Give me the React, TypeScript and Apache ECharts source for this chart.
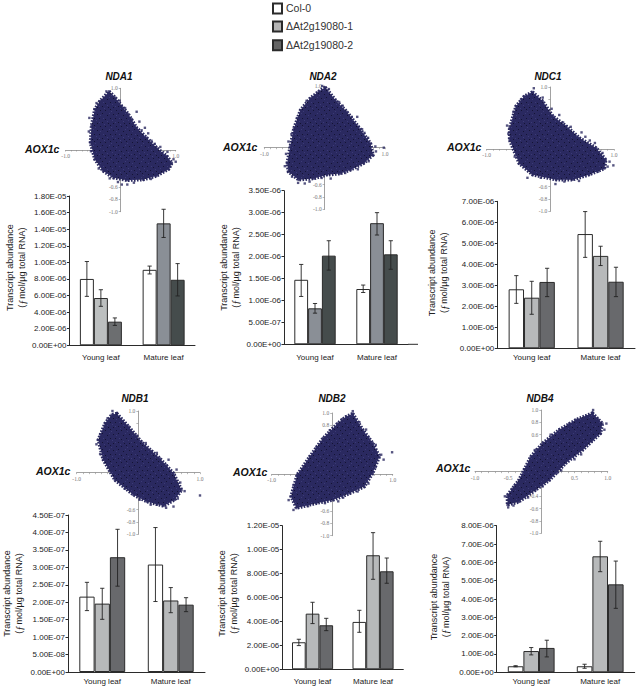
import React, { useEffect, useRef } from "react";
import * as echarts from "echarts";

const categories = ["Young leaf", "Mature leaf"];
const lines = ["Col-0", "ΔAt2g19080-1", "ΔAt2g19080-2"];
const genes = ["NDA1", "NDA2", "NDC1", "NDB1", "NDB2", "NDB4"];

// [young, mature] per line
const nda1Values = [[8.0e-6, 9.1e-6], [5.7e-6, 1.47e-5], [2.85e-6, 7.9e-6]];
const nda1Low = [[5.9e-6, 8.6e-6], [4.7e-6, 1.3e-5], [2.4e-6, 5.95e-6]];
const nda1High = [[1.01e-5, 9.55e-6], [6.7e-6, 1.64e-5], [3.3e-6, 9.85e-6]];

const nda2Values = [[1.47e-6, 1.26e-6], [8.2e-7, 2.76e-6], [2.02e-6, 2.05e-6]];
const nda2Low = [[1.09e-6, 1.18e-6], [7.1e-7, 2.49e-6], [1.69e-6, 1.71e-6]];
const nda2High = [[1.82e-6, 1.35e-6], [9.3e-7, 3.0e-6], [2.36e-6, 2.36e-6]];

const ndc1Values = [[2.81e-6, 5.44e-6], [2.41e-6, 4.4e-6], [3.16e-6, 3.17e-6]];
const ndc1Low = [[2.14e-6, 4.33e-6], [1.62e-6, 3.94e-6], [2.46e-6, 2.46e-6]];
const ndc1High = [[3.46e-6, 6.51e-6], [3.19e-6, 4.86e-6], [3.81e-6, 3.86e-6]];

const ndb1Values = [[2.16e-7, 3.08e-7], [1.96e-7, 2.05e-7], [3.29e-7, 1.93e-7]];
const ndb1Low = [[1.76e-7, 2.02e-7], [1.51e-7, 1.7e-7], [2.46e-7, 1.73e-7]];
const ndb1High = [[2.57e-7, 4.14e-7], [2.4e-7, 2.42e-7], [4.09e-7, 2.13e-7]];

const ndb2Values = [[2.26e-6, 3.96e-6], [4.65e-6, 9.53e-6], [3.68e-6, 8.19e-6]];
const ndb2Low = [[1.98e-6, 3.09e-6], [3.82e-6, 7.52e-6], [3.23e-6, 7.19e-6]];
const ndb2High = [[2.51e-6, 4.93e-6], [5.6e-6, 1.142e-5], [4.26e-6, 9.3e-6]];

const ndb4Values = [[3.3e-7, 3.3e-7], [1.16e-6, 6.33e-6], [1.33e-6, 4.8e-6]];
const ndb4Low = [[3.0e-7, 2.2e-7], [9.5e-7, 5.49e-6], [8.4e-7, 3.49e-6]];
const ndb4High = [[3.6e-7, 4.4e-7], [1.35e-6, 7.15e-6], [1.75e-6, 6.07e-6]];

const yMaxes = [1.8e-5, 3.5e-6, 7e-6, 4.5e-7, 1.2e-5, 8e-6];
const yIntervals = [2e-6, 5e-7, 1e-6, 5e-8, 2e-6, 1e-6];

// Scatter silhouettes (x, y correlation)
const nda1Cloud = [[-.21,.95],[-.1,.85],[.02,.71],[.14,.58],[.29,.36],[.47,.2],[.65,.04],[.84,-.1],[.93,-.21],[.87,-.31],[.65,-.42],[.41,-.48],[.11,-.49],[-.13,-.45],[-.32,-.34],[-.47,-.15],[-.55,.12],[-.53,.39],[-.47,.66],[-.38,.79]];
const nda2Cloud = [[.01,.98],[.18,.77],[.37,.58],[.56,.34],[.76,.07],[.8,-.12],[.65,-.25],[.43,-.36],[.26,-.42],[.04,-.44],[-.18,-.5],[-.43,-.52],[-.6,-.39],[-.62,-.25],[-.57,.02],[-.51,.31],[-.4,.61],[-.24,.8],[-.1,.91]];
const ndc1Cloud = [[-.28,.92],[-.12,.77],[.04,.53],[.25,.37],[.46,.18],[.72,.02],[.87,-.17],[.85,-.31],[.61,-.41],[.35,-.49],[.09,-.49],[-.28,-.41],[-.49,-.23],[-.64,.15],[-.64,.34],[-.54,.69],[-.41,.85]];
const ndb1Cloud = [[-.35,.96],[-.16,.75],[.05,.5],[.35,.23],[.57,-.01],[.7,-.28],[.59,-.44],[.41,-.54],[.14,-.47],[-.08,-.36],[-.38,-.12],[-.57,.21],[-.65,.53],[-.54,.8],[-.43,.94]];
const ndb2Cloud = [[.34,.99],[.51,.72],[.67,.51],[.78,.29],[.67,.02],[.53,-.2],[.29,-.31],[.01,-.42],[-.26,-.47],[-.59,-.55],[-.68,-.36],[-.58,-.01],[-.37,.29],[-.15,.59],[.09,.83],[.23,.94]];
const ndb4Cloud = [[.77,.95],[.92,.78],[.89,.62],[.62,.35],[.37,.14],[.12,-.14],[-.09,-.3],[-.34,-.49],[-.51,-.54],[-.51,-.38],[-.34,-.14],[-.16,.24],[.02,.46],[.27,.68],[.52,.84]];

const nda1Stray = [[.29,.62],[.44,.36],[.5,.27],[.02,-.56],[.12,-.56],[1.0,-.19],[.34,.46],[.56,.15],[.72,.05],[.96,-.15],[.24,-.53],[-.2,-.46],[-.02,.8],[-.58,.3],[-.54,-.02],[.78,-.33],[.2,.5],[.08,.68],[.38,.32],[-.26,.95],[-.44,.76],[-.57,.52],[-.4,-.3],[-.05,-.52],[.55,-.47],[.9,-.27],[.62,.1],[.85,-.03]];
const nda2Stray = [[.98,0],[-.44,-.57],[.54,.5],[.66,.24],[.84,.02],[.3,.68],[.1,-.5],[-.25,-.55],[-.66,-.3],[.55,-.35],[.73,-.22],[-.6,.1],[.45,.5],[.07,.95],[.24,.74],[.62,.3],[.72,.16],[.85,-.06],[.34,-.41],[-.05,-.49],[-.33,-.58],[-.54,-.47],[-.64,-.1],[-.55,.22],[-.46,.48],[-.3,.76],[-.04,1.0]];
const ndc1Stray = [[.99,-.26],[.49,.27],[.08,-.56],[.62,.14],[.32,.36],[.93,-.2],[.45,-.51],[-.12,.83],[.14,.55],[-.66,.25],[-.36,-.46],[.75,-.36],[.7,.1],[-.26,.98],[.02,.65],[.2,.43],[.55,.2],[.82,-.06],[.9,-.28],[.22,-.52],[-.15,-.46],[-.56,-.12],[-.68,.38],[-.58,.6],[-.46,.8]];
const ndb1Stray = [[1.0,-.37],[.57,-.55],[.49,.21],[.62,.05],[.75,-.3],[.45,-.57],[.3,.32],[-.02,.6],[.2,-.52],[-.62,.62],[-.68,.46],[-.42,1.0],[.64,-.42],[.12,.48],[.22,.35],[.46,.12],[.68,-.16],[.3,-.52],[.02,-.44],[-.22,-.26],[-.46,.03],[-.62,.3],[-.5,.88]];
const ndb2Stray = [[.99,.36],[.56,.73],[.81,.32],[.72,.48],[.6,.6],[.34,1.03],[.72,.12],[.6,-.15],[-.64,-.58],[-.72,-.42],[.1,-.44],[.85,.24],[.45,.85],[.42,-.28],[.18,-.38],[-.12,-.47],[-.4,-.52],[-.64,-.18],[-.46,.13],[-.26,.44],[-.04,.72],[.16,.9],[.72,.38],[.6,.42]];
const ndb4Stray = [[.98,.78],[-.55,-.4],[.85,.85],[.78,1.0],[.95,.68],[-.5,-.58],[-.42,-.55],[.5,.2],[.3,.02],[-.1,.35],[-.4,-.22],[.6,.28],[.68,.9],[.42,.78],[.14,.6],[-.07,.36],[-.26,.04],[-.44,-.28],[-.2,-.42],[.02,-.24],[.24,-.02],[.48,.26],[.76,.5]];

const clouds = [nda1Cloud, nda2Cloud, ndc1Cloud, ndb1Cloud, ndb2Cloud, ndb4Cloud];
const strays = [nda1Stray, nda2Stray, ndc1Stray, ndb1Stray, ndb2Stray, ndb4Stray];
const values = [nda1Values, nda2Values, ndc1Values, ndb1Values, ndb2Values, ndb4Values];
const lows = [nda1Low, nda2Low, ndc1Low, ndb1Low, ndb2Low, ndb4Low];
const highs = [nda1High, nda2High, ndc1High, ndb1High, ndb2High, ndb4High];

const xLabelSets = [[-1, 1], [-1, 1], [-1, 1], [-1, 1], [-1, 1], [-1, -0.5, 0.5, 1]];
const yLabelSets = [
  [1, -0.6, -0.8, -1], [1, -0.6, -0.8, -1], [1, -0.6, -0.8, -1],
  [1, -0.6, -0.8, -1], [1, 0.8, -0.6, -0.8, -1], [1, 0.8, 0.6, -0.4, -0.6, -0.8, -1],
];

// ---- layout and styles, in pixels ----
const barLayouts = [
  { left: 69.5, top: 196, width: 125.5, height: 149.3, barW: 14, labelMargin: 8, nameGap: 41.3, nameShift: 6 },
  { left: 284, top: 190.7, width: 124, height: 153.6, barW: 13.8, labelMargin: 9, nameGap: 42.5, nameShift: 0 },
  { left: 497.3, top: 201.3, width: 137.7, height: 147, barW: 15.4, labelMargin: 5, nameGap: 47, nameShift: 4 },
  { left: 68, top: 515, width: 137, height: 157, barW: 15.3, labelMargin: 5.5, nameGap: 43, nameShift: 0 },
  { left: 282.3, top: 525.7, width: 121, height: 143.6, barW: 13.7, labelMargin: 8.5, nameGap: 42, nameShift: 8 },
  { left: 496.7, top: 525.7, width: 138, height: 146.6, barW: 15.6, labelMargin: 5.5, nameGap: 45, nameShift: 4 },
];
const cloudLayouts = [
  { left: 65.7, top: 88.3, width: 110, height: 123.4, tx: 119, ty: 76, ax: 25, ay: 148.5 },
  { left: 264.3, top: 86, width: 120.7, height: 123.4, tx: 323, ty: 76, ax: 223, ay: 147 },
  { left: 486.7, top: 87, width: 127.3, height: 124.4, tx: 548, ty: 76, ax: 447, ay: 146.5 },
  { left: 76.7, top: 411, width: 123.3, height: 123.3, tx: 135, ty: 398, ax: 36, ay: 471 },
  { left: 271.7, top: 413, width: 121, height: 122.7, tx: 332, ty: 398, ax: 233, ay: 472 },
  { left: 475, top: 410, width: 132.7, height: 123.3, tx: 540, ty: 398, ax: 436, ay: 467.5 },
];
const legendTops = [2.4, 20.4, 39.2];
const lightGray = "#b7b9ba";
const darkGray = "#68696c";
const midBlue = "#8a8f96";
const slate = "#454c4c";
const barColors = [
  [["#ffffff", "#ffffff"], ["#bcbfbf", midBlue], ["#6c6e70", slate]],
  [["#ffffff", "#ffffff"], [midBlue, midBlue], [slate, slate]],
  [["#ffffff", "#ffffff"], [lightGray, lightGray], [darkGray, darkGray]],
  [["#ffffff", "#ffffff"], [lightGray, lightGray], [darkGray, darkGray]],
  [["#ffffff", "#ffffff"], [lightGray, lightGray], [darkGray, darkGray]],
  [["#ffffff", "#ffffff"], [lightGray, lightGray], [darkGray, darkGray]],
];
const legendColors = ["#ffffff", "#b5b5b5", "#656565"];
const ink = "#2b2b2b";
const cloudColor = "#2a2960";
const sans = "Liberation Sans";

// texture tile for the densely overplotted clouds
const speckTile = [[1,2],[6,1],[11,3],[3,6],[9,7],[14,6],[1,11],[6,10],[12,11],[4,14],[9,14],[14,13]];
const speckTileLight = [[4,3],[13,1],[7,6],[0,8],[11,9],[3,10],[8,12],[15,15]];

function makeTexture() {
  const c = document.createElement("canvas");
  c.width = 16;
  c.height = 16;
  const g = c.getContext("2d")!;
  g.fillStyle = cloudColor;
  g.fillRect(0, 0, 16, 16);
  g.fillStyle = "#141334";
  speckTile.forEach(([x, y]) => g.fillRect(x, y, 1, 1));
  g.fillStyle = "#3b3a76";
  speckTileLight.forEach(([x, y]) => g.fillRect(x, y, 1, 1));
  return { image: c, repeat: "repeat" };
}

const formatSci = (v: number) => {
  if (v === 0) return "0.00E+00";
  const [m, e] = v.toExponential(2).split("e");
  const n = Math.abs(Number(e));
  return `${m}E${Number(e) < 0 ? "-" : "+"}${n < 10 ? "0" : ""}${n}`;
};

function buildOption() {
  const grid: any[] = [];
  const xAxis: any[] = [];
  const yAxis: any[] = [];
  const series: any[] = [];
  const graphic: any[] = [];
  const texture = makeTexture();

  genes.forEach((gene, p) => {
    const bl = barLayouts[p];
    const cl = cloudLayouts[p];
    const gi = grid.length;

    // correlation scatter
    grid.push({ left: cl.left, top: cl.top, width: cl.width, height: cl.height });
    xAxis.push({
      type: "value", gridIndex: gi, min: -1, max: 1, interval: 0.5,
      position: "bottom", offset: -cl.height / 2,
      splitLine: { show: false },
      axisLine: { onZero: false, lineStyle: { color: "#8a8a8a", width: 0.8 } },
      axisTick: { length: 1.5, lineStyle: { color: "#8a8a8a", width: 0.6 } },
      minorTick: { show: true, splitNumber: 5, length: 1.5, lineStyle: { color: "#8a8a8a", width: 0.6 } },
      axisLabel: {
        fontFamily: "Liberation Serif", fontSize: 5.5, color: "#777777", margin: 3, hideOverlap: false,
        showMinLabel: true, showMaxLabel: true,
        formatter: (v: number) => (xLabelSets[p].includes(v) ? v.toFixed(1) : ""),
      },
    });
    yAxis.push({
      type: "value", gridIndex: gi, min: -1, max: 1, interval: 0.2,
      position: "left", offset: -cl.width / 2,
      splitLine: { show: false },
      axisLine: { onZero: false, lineStyle: { color: "#8a8a8a", width: 0.8 } },
      axisTick: { length: 2, lineStyle: { color: "#8a8a8a", width: 0.6 } },
      axisLabel: {
        fontFamily: "Liberation Serif", fontSize: 5.5, color: "#777777", margin: 3, hideOverlap: false,
        showMinLabel: true, showMaxLabel: true,
        formatter: (v: number) => (yLabelSets[p].some((t) => Math.abs(t - v) < 1e-6) ? v.toFixed(1) : ""),
      },
    });
    const outline = clouds[p];
    series.push({
      type: "custom", xAxisIndex: gi, yAxisIndex: gi, silent: true, z: 3, clip: false,
      data: outline,
      renderItem: (params: any, api: any) => {
        if (params.dataIndex !== 0) return { type: "group", children: [] };
        const points = outline.map((pt) => api.coord(pt));
        return {
          type: "group",
          children: [
            { type: "polygon", shape: { points }, style: { fill: "none", stroke: cloudColor, lineWidth: 3.5, lineDash: [1.6, 1.4] } },
            { type: "polygon", shape: { points }, style: { fill: texture, stroke: "none" } },
          ],
        };
      },
    });
    series.push({
      type: "scatter", xAxisIndex: gi, yAxisIndex: gi, silent: true, z: 4, clip: false,
      symbol: "rect", symbolSize: 2.4,
      itemStyle: { color: cloudColor },
      data: [...outline, ...strays[p]],
    });
    graphic.push({
      type: "text", x: cl.tx, y: cl.ty, z: 10,
      style: { text: gene, font: `italic bold 10px "${sans}"`, fill: "#111", textAlign: "center", textVerticalAlign: "middle" },
    });
    graphic.push({
      type: "text", x: cl.ax, y: cl.ay, z: 10,
      style: { text: "AOX1c", font: `italic bold 10.5px "${sans}"`, fill: "#111", textAlign: "left", textVerticalAlign: "middle" },
    });

    // transcript bars
    const bi = grid.length;
    grid.push({ left: bl.left, top: bl.top, width: bl.width, height: bl.height });
    xAxis.push({
      type: "category", gridIndex: bi, data: categories,
      axisLine: { lineStyle: { color: ink, width: 1 } },
      axisTick: { show: false },
      axisLabel: { fontFamily: sans, fontSize: 8, color: "#222", margin: bl.labelMargin },
    });
    yAxis.push({
      type: "value", gridIndex: bi, min: 0, max: yMaxes[p], interval: yIntervals[p],
      splitLine: { show: false },
      axisLine: { show: true, lineStyle: { color: ink, width: 1 } },
      axisTick: { show: true, length: 2.5, lineStyle: { color: ink, width: 1 } },
      axisLabel: { fontFamily: sans, fontSize: 8, color: "#222", margin: 3, formatter: formatSci },
      name: "Transcript abundance\n({f|ƒ}mol/µg total RNA)",
      nameLocation: "middle", nameRotate: 90, nameGap: bl.nameGap,
      nameTextStyle: {
        fontFamily: sans, fontSize: 9, color: "#222", lineHeight: 12,
        padding: [0, 0, 0, bl.nameShift],
        rich: { f: { fontFamily: "Liberation Serif", fontStyle: "italic", fontSize: 10.5, color: "#222", padding: [0, 1, 0, 0] } },
      },
    });
    lines.forEach((name, s) => {
      series.push({
        type: "bar", name, xAxisIndex: bi, yAxisIndex: bi, z: 2,
        barWidth: bl.barW, barGap: "0%",
        itemStyle: { color: legendColors[s], borderColor: ink, borderWidth: 1 },
        data: values[p][s].map((v, c) => ({ value: v, itemStyle: { color: barColors[p][s][c] } })),
      });
    });
    lines.forEach((_, s) => {
      series.push({
        type: "custom", xAxisIndex: bi, yAxisIndex: bi, silent: true, z: 5,
        encode: { x: 0, y: [1, 2] },
        data: categories.map((_c, c) => [c, lows[p][s][c], highs[p][s][c]]),
        renderItem: (_params: any, api: any) => {
          const cat = api.value(0);
          const lo = api.coord([cat, api.value(1)]);
          const hi = api.coord([cat, api.value(2)]);
          const x = lo[0] + (s - 1) * bl.barW;
          const cap = 2.1;
          const st = { stroke: "#222", lineWidth: 0.9 };
          return {
            type: "group",
            children: [
              { type: "line", shape: { x1: x, y1: lo[1], x2: x, y2: hi[1] }, style: st },
              { type: "line", shape: { x1: x - cap, y1: lo[1], x2: x + cap, y2: lo[1] }, style: st },
              { type: "line", shape: { x1: x - cap, y1: hi[1], x2: x + cap, y2: hi[1] }, style: st },
            ],
          };
        },
      });
    });
  });

  // NDA2's baseline runs on past its last category
  graphic.push({
    type: "line", z: 1,
    shape: { x1: 408, y1: 344.3, x2: 418, y2: 344.3 },
    style: { stroke: ink, lineWidth: 1 },
  });

  return {
    animation: false,
    backgroundColor: "#ffffff",
    textStyle: { fontFamily: sans },
    legend: lines.map((name, i) => ({
      data: [name], orient: "vertical", left: 272, top: legendTops[i], itemWidth: 9, itemHeight: 10,
      icon: "rect", selectedMode: false, padding: 0,
      textStyle: { fontFamily: sans, fontSize: 10.5, lineHeight: 10, color: "#333", padding: [0, 0, 0, -1] },
    })),
    grid, xAxis, yAxis, series, graphic,
  };
}

export default function App() {
  const ref = useRef<HTMLDivElement>(null);
  useEffect(() => {
    document.body.style.margin = "0";
    const chart = echarts.init(ref.current!, undefined, { renderer: "svg" });
    chart.setOption(buildOption() as any);
    return () => chart.dispose();
  }, []);
  return <div ref={ref} style={{ width: 637, height: 688 }} />;
}
